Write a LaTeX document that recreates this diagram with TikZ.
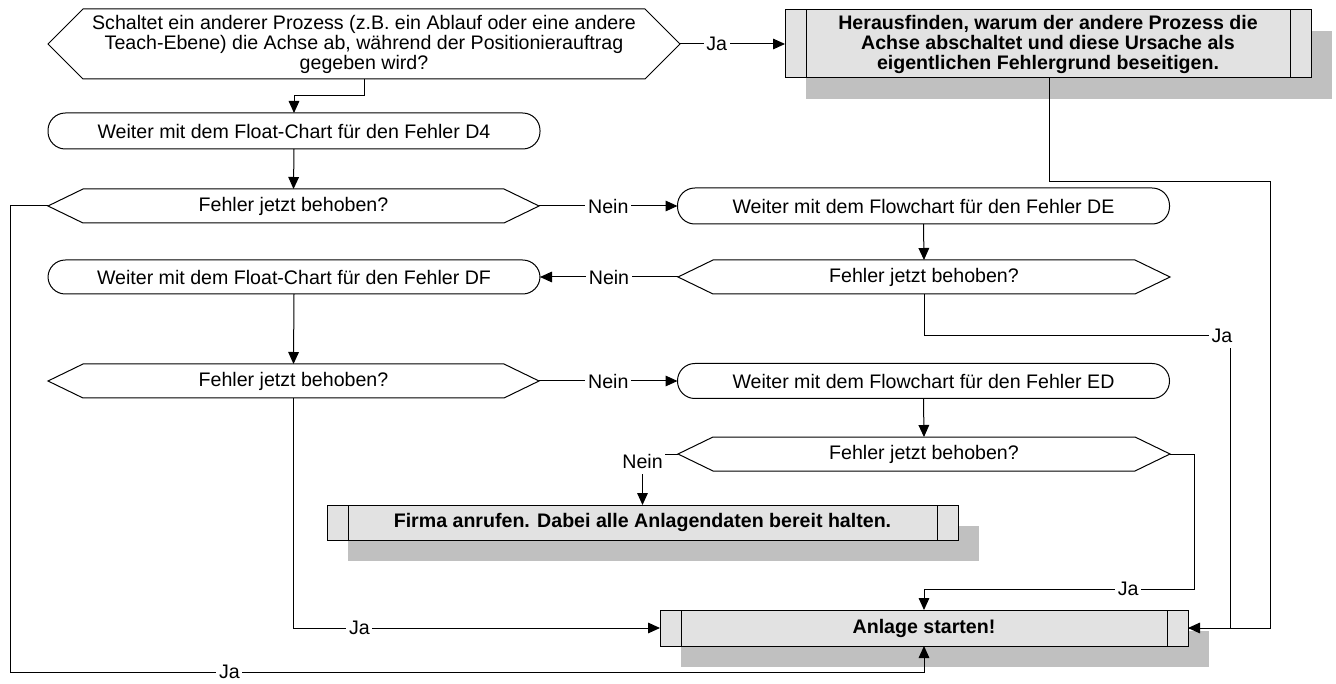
\documentclass[tikz,border=0pt]{standalone}
\usepackage{fontspec}
\setmainfont{Liberation Sans}
\usetikzlibrary{arrows.meta,backgrounds}
\newlength\px \setlength\px{0.75pt}
\definecolor{shadowgray}{RGB}{192,192,192}
\definecolor{procfill}{RGB}{226,226,226}
\newcommand\lfont{\fontsize{14.7}{15}\selectfont}
\newcommand\bfont{\fontsize{14.7}{15}\selectfont\bfseries}
% hexagonal decision outline around a node; #2 = depth of the pointed ends
\newcommand\decisionoutline[2]{%
  \draw[outline] (#1.west) -- ([xshift=#2]#1.north west) -- ([xshift=-#2]#1.north east)
    -- (#1.east) -- ([xshift=-#2]#1.south east) -- ([xshift=#2]#1.south west) -- cycle;}
% predefined-process extras: offset shadow and the two inner side bars
\newcommand\processextras[1]{%
  \begin{scope}[on background layer]
    \fill[shadowgray] ([shift={(21\px,-21\px)}]#1.north west) rectangle ([shift={(21\px,-21\px)}]#1.south east);
  \end{scope}
  \draw[outline] ([xshift=21\px]#1.north west) -- ([xshift=21\px]#1.south west);
  \draw[outline] ([xshift=-21\px]#1.north east) -- ([xshift=-21\px]#1.south east);}
\tikzset{
  outline/.style={line width=0.75pt, black},
  conn/.style={line width=0.75pt, black},
  tipend/.style={-{Triangle[length=9pt,width=8pt]}},
  lbl/.style={font=\lfont, fill=white, inner xsep=2pt, inner ysep=0pt},
  question/.style={rectangle, inner sep=0pt, outer sep=0pt, minimum width=491\px,
    minimum height=34\px, font=\lfont, align=center},
  startend/.style={rectangle, rounded corners=13pt, draw, line width=0.75pt, inner sep=0pt,
    outer sep=0pt, minimum width=492\px, minimum height=36\px, font=\lfont},
  procbox/.style={rectangle, draw, line width=0.75pt, fill=procfill, inner sep=0pt,
    outer sep=0pt, font=\bfont, align=center},
}
\begin{document}
\begin{tikzpicture}[x=0.75pt, y=-0.75pt]
\useasboundingbox (0,0) rectangle (1336,684);

% ---- shapes ----
\node[question, minimum width=632\px, minimum height=70\px] (h1) at (364,44)
  {Schaltet ein anderer Prozess (z.B. ein Ablauf oder eine andere\\
   Teach-Ebene) die Achse ab, während der Positionierauftrag\\gegeben wird?};
\decisionoutline{h1}{35\px}

\node[procbox, minimum width=526\px, minimum height=68\px] (p1) at (1048,44)
  {Herausfinden, warum der andere Prozess die\\Achse abschaltet und diese Ursache als\\
   eigentlichen Fehlergrund beseitigen.};
\processextras{p1}

\node[startend] (d4) at (294,131) {Weiter mit dem Float-Chart für den Fehler D4};

\node[question] (q1) at (293.5,206) {Fehler jetzt behoben?};
\decisionoutline{q1}{35\px}

\node[startend] (de) at (923.5,206) {Weiter mit dem Flowchart für den Fehler DE};

\node[question, minimum width=492\px] (q2) at (924,277) {Fehler jetzt behoben?};
\decisionoutline{q2}{35\px}

\node[startend, minimum height=34\px] (df) at (294,277) {Weiter mit dem Float-Chart für den Fehler DF};

\node[question] (q3) at (293.5,381) {Fehler jetzt behoben?};
\decisionoutline{q3}{35\px}

\node[startend, minimum height=35\px] (ed) at (923.5,381) {Weiter mit dem Flowchart für den Fehler ED};

\node[question, minimum width=492\px] (q4) at (924,454) {Fehler jetzt behoben?};
\decisionoutline{q4}{35\px}

\node[procbox, minimum width=631\px, minimum height=35\px] (firma) at (642.5,522.5)
  {Firma anrufen. Dabei alle Anlagendaten bereit halten.};
\processextras{firma}

\node[procbox, minimum width=528\px, minimum height=36\px] (anl) at (924,628) {Anlage starten!};
\processextras{anl}

% ---- bend points ----
\coordinate (r1) at (1270,182);
\coordinate (r2) at (1230,336);
\coordinate (r3) at (1194,589);
\coordinate (l1) at (10,672);

% ---- connectors ----
\draw[conn,tipend] (h1.south) -- ++(0,17) -| (d4.north);
\draw[conn,tipend] (h1.east) -- node[lbl,pos=0.35]{Ja} (p1.west);
\draw[conn,tipend] ([xshift=1\px]p1.south) |- (r1) |- (anl.east);
\draw[conn,tipend] (d4.south) -- (q1.north);
\draw[conn,tipend] (q1.east) -- node[lbl]{Nein} (de.west);
\draw[conn,tipend] (q1.west) -| (l1) -- node[lbl,pos=0.24]{Ja} (l1 -| anl.south) -- (anl.south);
\draw[conn,tipend] (de.south) -- (q2.north);
\draw[conn,tipend] (q2.west) -- node[lbl]{Nein} (df.east);
\draw[conn] (q2.south) |- (r2) node[lbl,xshift=-8\px,inner ysep=4pt]{Ja} |- (anl.east);
\draw[conn,tipend] (df.south) -- (q3.north);
\draw[conn,tipend] (q3.east) -- node[lbl]{Nein} (ed.west);
\draw[conn,tipend] (q3.south) |- node[lbl,pos=0.59]{Ja} (anl.west);
\draw[conn,tipend] (ed.south) -- (q4.north);
\draw[conn,tipend] (q4.west) -| node[lbl,pos=0.5,yshift=-7\px,inner ysep=4pt]{Nein} (firma.north);
\draw[conn,tipend] (q4.east) -| (r3) -- node[lbl,pos=0.244]{Ja} (r3 -| anl.north) -- (anl.north);
\end{tikzpicture}
\end{document}
